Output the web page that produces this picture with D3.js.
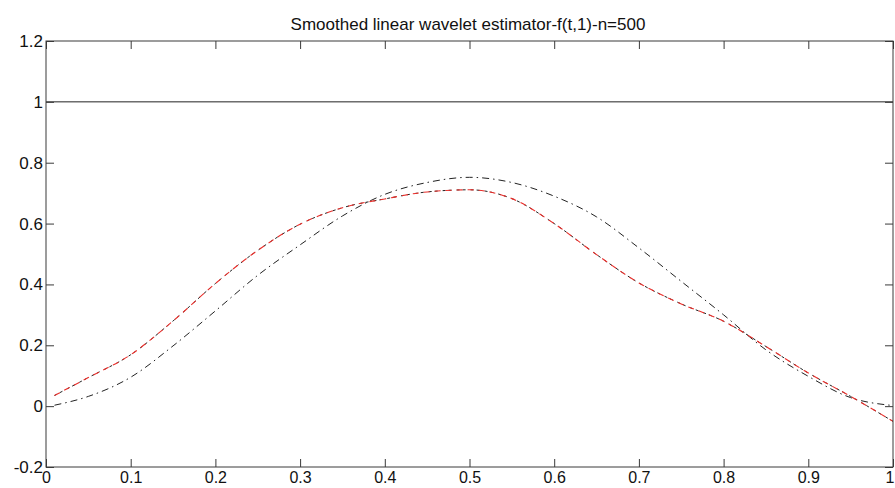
<!DOCTYPE html>
<html>
<head>
<meta charset="utf-8">
<script src="https://cdn.jsdelivr.net/npm/d3@7"></script>
<style>
  html, body { margin: 0; padding: 0; background: #fff; }
  svg { display: block; font-family: "Liberation Sans", Arial, sans-serif; }
</style>
</head>
<body>
<svg id="chart" width="895" height="488"></svg>
<script>
const titleText = "Smoothed linear wavelet estimator-f(t,1)-n=500";
const tValues = [0.01, 0.05, 0.1, 0.15, 0.2, 0.25, 0.3, 0.35, 0.4, 0.45, 0.5, 0.55, 0.6, 0.65, 0.7, 0.75, 0.8, 0.85, 0.9, 0.95, 1.0];
const blackSeries = [0.003, 0.032, 0.095, 0.198, 0.313, 0.43, 0.53, 0.625, 0.696, 0.735, 0.752, 0.735, 0.69, 0.622, 0.52, 0.41, 0.30, 0.185, 0.098, 0.028, 0.002];
const redSeries = [0.035, 0.094, 0.169, 0.28, 0.403, 0.512, 0.598, 0.652, 0.681, 0.704, 0.711, 0.682, 0.600, 0.498, 0.405, 0.336, 0.279, 0.196, 0.109, 0.032, -0.05];
const flatT = [0, 1];
const flatSeries = [1, 1];
const xTicks = [0, 0.1, 0.2, 0.3, 0.4, 0.5, 0.6, 0.7, 0.8, 0.9, 1];
const yTicks = [-0.2, 0, 0.2, 0.4, 0.6, 0.8, 1, 1.2];

const svg = d3.select("#chart");
const mLeft = 46, mRight = 893, mTop = 41, mBottom = 467;
const x = d3.scaleLinear().domain([0, 1]).range([mLeft, mRight]);
const y = d3.scaleLinear().domain([-0.2, 1.2]).range([mBottom, mTop]);
const axisColor = "#3a3a3a";
const tickLen = 8;
const fmt = d => String(Math.round(d * 10) / 10);

// title
svg.append("text").attr("x", 468).attr("y", 30).attr("text-anchor", "middle")
  .attr("font-size", 17).attr("fill", "#111").text(titleText);

svg.append("clipPath").attr("id", "clip").append("rect")
  .attr("x", mLeft).attr("y", mTop).attr("width", mRight - mLeft).attr("height", mBottom - mTop);

const plot = svg.append("g").attr("clip-path", "url(#clip)");
const line = d3.line().x(d => x(d[0])).y(d => y(d[1])).curve(d3.curveMonotoneX);

plot.append("path").datum(flatT.map((t, i) => [t, flatSeries[i]]))
  .attr("d", line).attr("fill", "none").attr("stroke", "#222").attr("stroke-width", 1);

plot.append("path").datum(tValues.map((t, i) => [t, blackSeries[i]]))
  .attr("d", line).attr("fill", "none").attr("stroke", "#222").attr("stroke-width", 1)
  .attr("stroke-dasharray", "7,4,1.5,4");

plot.append("path").datum(tValues.map((t, i) => [t, redSeries[i]]))
  .attr("d", line).attr("fill", "none").attr("stroke", "#222").attr("stroke-width", 1)
  .attr("stroke-dasharray", "3,3,3,5");
plot.append("path").datum(tValues.map((t, i) => [t, redSeries[i]]))
  .attr("d", line).attr("fill", "none").attr("stroke", "#ea2e2a").attr("stroke-width", 1.1)
  .attr("stroke-dasharray", "6,5");

// axes box
const axG = svg.append("g");
axG.append("rect").attr("x", mLeft).attr("y", mTop).attr("width", mRight - mLeft).attr("height", mBottom - mTop)
  .attr("fill", "none").attr("stroke", axisColor).attr("stroke-width", 1);

const xAxis = d3.axisBottom(x).tickValues(xTicks).tickSizeInner(-tickLen).tickSizeOuter(0).tickPadding(3)
  .tickFormat(fmt);
const gx = axG.append("g").attr("transform", `translate(0,${mBottom})`).call(xAxis);
gx.select(".domain").remove();
gx.selectAll("line").attr("stroke", axisColor);
gx.selectAll("text").attr("font-size", 16).attr("fill", "#111")
  .attr("font-family", "Liberation Sans, Arial, sans-serif")
  .attr("y", 16).attr("dy", 0);
// keep the last label inside the page edge
gx.selectAll(".tick").filter(d => d === 1).select("text")
  .attr("text-anchor", "end").attr("x", 894 - mRight);

const xAxisTop = d3.axisTop(x).tickValues(xTicks).tickSizeInner(-tickLen).tickSizeOuter(0).tickFormat("");
const gxt = axG.append("g").attr("transform", `translate(0,${mTop})`).call(xAxisTop);
gxt.select(".domain").remove();
gxt.selectAll("line").attr("stroke", axisColor);

const yAxis = d3.axisLeft(y).tickValues(yTicks).tickSizeInner(-tickLen).tickSizeOuter(0).tickPadding(3)
  .tickFormat(fmt);
const gy = axG.append("g").attr("transform", `translate(${mLeft},0)`).call(yAxis);
gy.select(".domain").remove();
gy.selectAll("line").attr("stroke", axisColor);
gy.selectAll("text").attr("font-size", 17).attr("fill", "#111")
  .attr("font-family", "Liberation Sans, Arial, sans-serif");

const yAxisRight = d3.axisRight(y).tickValues(yTicks).tickSizeInner(-tickLen).tickSizeOuter(0).tickFormat("");
const gyr = axG.append("g").attr("transform", `translate(${mRight},0)`).call(yAxisRight);
gyr.select(".domain").remove();
gyr.selectAll("line").attr("stroke", axisColor);
</script>
</body>
</html>
